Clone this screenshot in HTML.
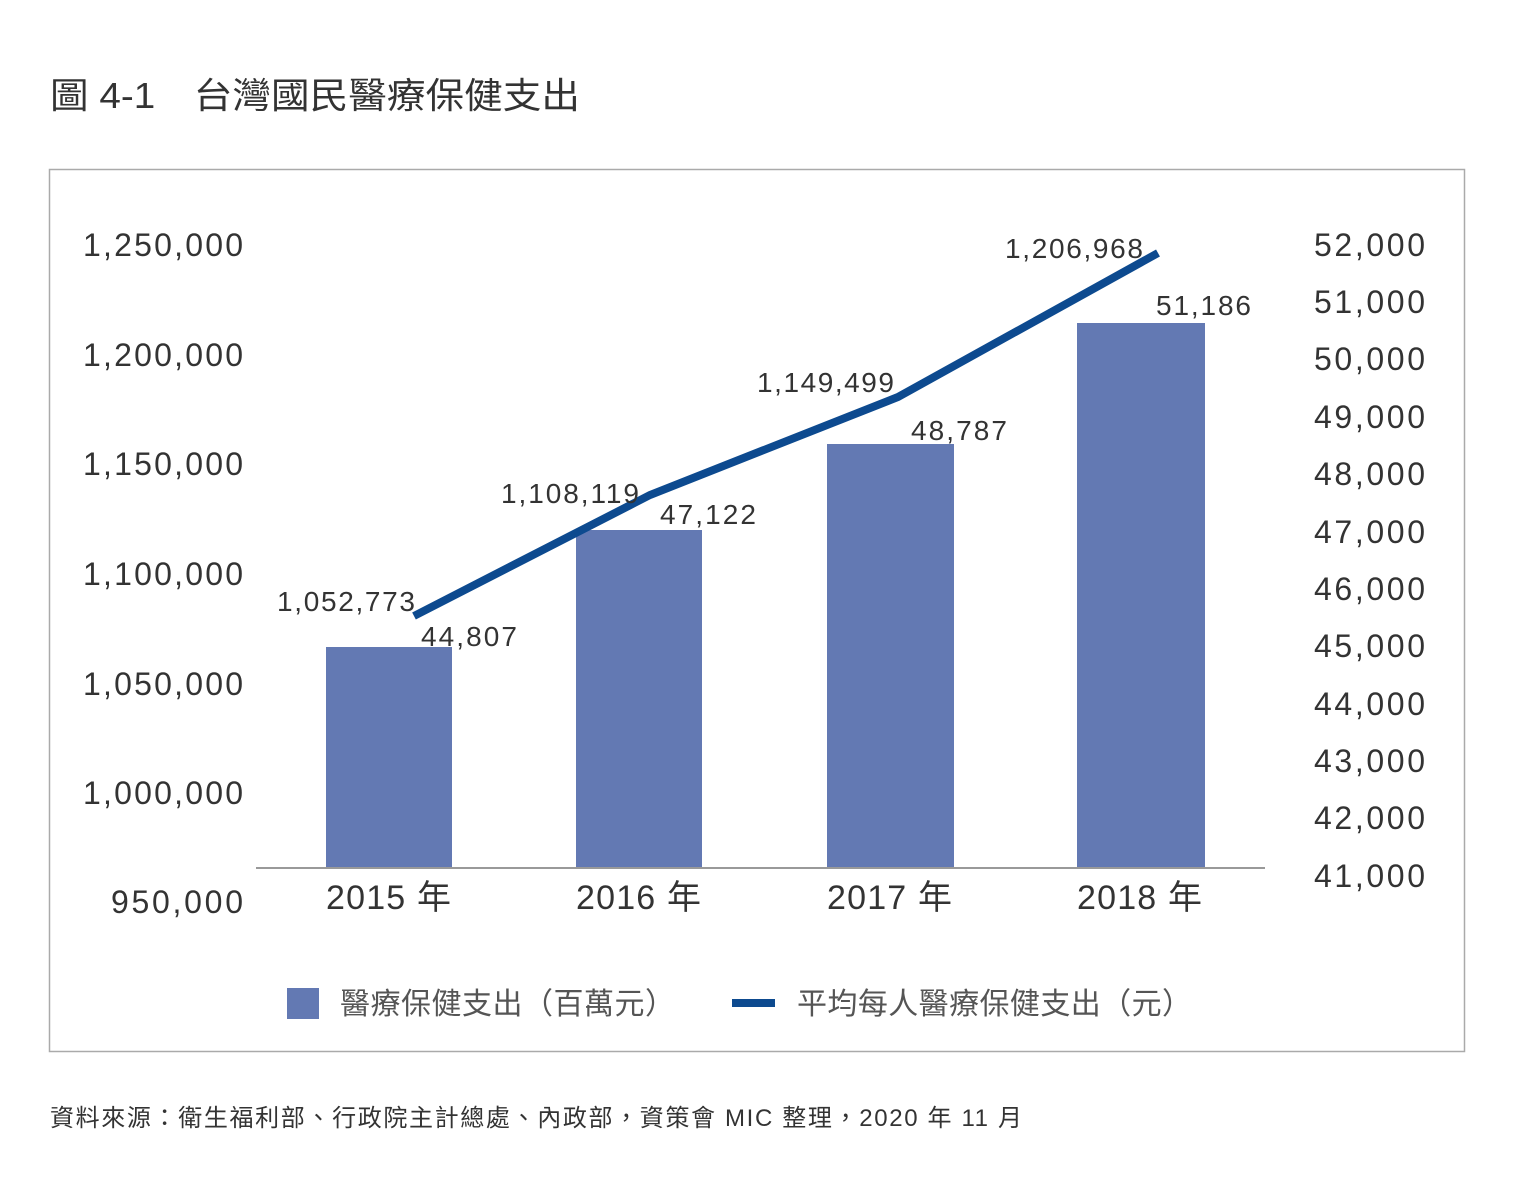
<!DOCTYPE html>
<html><head><meta charset="utf-8"><style>
html,body{margin:0;padding:0;background:#fff;}
svg{display:block;}
text{font-family:"Liberation Sans","Noto Sans CJK TC",sans-serif;}
</style></head><body>
<svg width="1536" height="1182" viewBox="0 0 1536 1182" xmlns="http://www.w3.org/2000/svg">
<text x="50" y="108" font-size="36" fill="#333" textLength="530" lengthAdjust="spacingAndGlyphs">圖 4-1　台灣國民醫療保健支出</text>
<rect x="49.5" y="169.5" width="1415" height="882" fill="none" stroke="#aaa" stroke-width="1.5"/>
<g font-size="32" fill="#333" lengthAdjust="spacingAndGlyphs">
<text x="83" y="256" textLength="160">1,250,000</text>
<text x="83" y="366" textLength="160">1,200,000</text>
<text x="83" y="475" textLength="160">1,150,000</text>
<text x="83" y="585" textLength="160">1,100,000</text>
<text x="83" y="695" textLength="160">1,050,000</text>
<text x="83" y="804" textLength="160">1,000,000</text>
<text x="111" y="913" textLength="132">950,000</text>
</g>
<g font-size="32" fill="#333">
<text x="1314" y="256" textLength="111">52,000</text>
<text x="1314" y="313" textLength="111">51,000</text>
<text x="1314" y="370" textLength="111">50,000</text>
<text x="1314" y="428" textLength="111">49,000</text>
<text x="1314" y="485" textLength="111">48,000</text>
<text x="1314" y="543" textLength="111">47,000</text>
<text x="1314" y="600" textLength="111">46,000</text>
<text x="1314" y="657" textLength="111">45,000</text>
<text x="1314" y="715" textLength="111">44,000</text>
<text x="1314" y="772" textLength="111">43,000</text>
<text x="1314" y="829" textLength="111">42,000</text>
<text x="1314" y="887" textLength="111">41,000</text>
</g>
<g fill="#6379b3">
<rect x="326" y="647" width="126" height="221"/>
<rect x="576" y="530" width="126" height="338"/>
<rect x="827" y="444" width="127" height="424"/>
<rect x="1077" y="323" width="128" height="545"/>
</g>
<line x1="256" y1="868" x2="1265" y2="868" stroke="#999" stroke-width="2"/>
<polyline points="414,616 650,495 898,397 1158,253" fill="none" stroke="#0d4a8f" stroke-width="8"/>
<g font-size="28" fill="#333">
<text x="277" y="611" textLength="138">1,052,773</text>
<text x="421" y="646" textLength="96">44,807</text>
<text x="501" y="503" textLength="138">1,108,119</text>
<text x="660" y="524" textLength="96">47,122</text>
<text x="757" y="392" textLength="137">1,149,499</text>
<text x="911" y="440" textLength="96">48,787</text>
<text x="1005" y="258" textLength="138">1,206,968</text>
<text x="1156" y="315" textLength="95">51,186</text>
</g>
<g font-size="34" fill="#333">
<text x="326" y="909" textLength="125">2015 年</text>
<text x="576" y="909" textLength="125">2016 年</text>
<text x="827" y="909" textLength="125">2017 年</text>
<text x="1077" y="909" textLength="125">2018 年</text>
</g>
<rect x="287" y="988" width="32" height="31" fill="#6379b3"/>
<text x="340" y="1014" font-size="30" fill="#555" textLength="335">醫療保健支出（百萬元）</text>
<line x1="732" y1="1003" x2="775" y2="1003" stroke="#0d4a8f" stroke-width="8"/>
<text x="797" y="1014" font-size="30" fill="#555" textLength="395">平均每人醫療保健支出（元）</text>
<text x="50" y="1126" font-size="24" fill="#333" textLength="972">資料來源：衛生福利部、行政院主計總處、內政部，資策會 MIC 整理，2020 年 11 月</text>
</svg>
</body></html>
